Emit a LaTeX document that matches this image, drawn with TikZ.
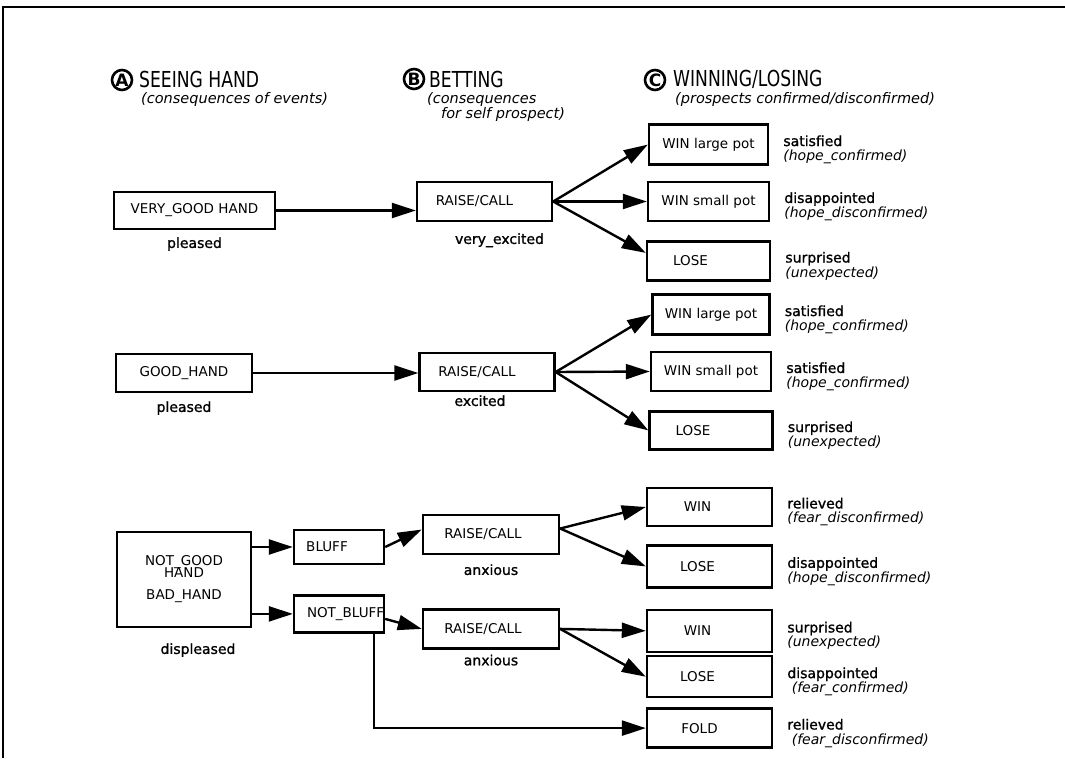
\documentclass[tikz,border=0pt]{standalone}
\usepackage{fontspec}
\setmainfont{DejaVu Sans}
\newfontfamily\lblfont[FakeBold=1.2]{DejaVu Sans}
\newfontfamily\headfont[FakeStretch=0.78]{DejaVu Sans}
\usetikzlibrary{arrows.meta, positioning}
\newcommand{\why}[1]{{\rmfamily\itshape #1}}
\newcommand{\lft}[2]{\hspace*{-#1}#2}
\tikzstyle{box}      = [rectangle, draw, line width=2.4pt, inner sep=2pt, text centered, font=\fontsize{13.5}{14}\selectfont]
\tikzstyle{rcbox}    = [box, minimum width=135pt, minimum height=39pt]
\tikzstyle{outbox}   = [box, minimum width=123pt, minimum height=39pt]
\tikzstyle{arrow}    = [line width=2.4pt, -{Triangle[length=24pt, width=15pt]}]
\tikzstyle{mood}     = [inner sep=0pt, text height=10pt, text depth=3pt, font=\lblfont\fontsize{14}{15}\selectfont]
\tikzstyle{outcome}  = [inner sep=0pt, align=left, yshift=-5pt, font=\lblfont\fontsize{14}{14.5}\selectfont]
\tikzstyle{stage}    = [circle, draw, line width=2.6pt, inner sep=0pt, minimum size=20pt, font=\bfseries\fontsize{17}{17}\selectfont]
\tikzstyle{title}    = [inner sep=0pt, anchor=west, font=\headfont\fontsize{22}{22}\selectfont]
\tikzstyle{subtitle} = [inner sep=0pt, anchor=west, align=left, font=\itshape\fontsize{14.5}{15.5}\selectfont]

\begin{document}
\begin{tikzpicture}[x=1pt, y=-1pt]
  \useasboundingbox (0,0) rectangle (1065,758);
  % frame
  \draw[line width=2.6pt] (3,758) -- (3,7) -- (1065,7);

  % Stage headings
  \node[stage] (sa) at (122,80) {A};
  \node[title] (sat) at (139,79) {SEEING HAND};
  \node[subtitle] (sas) at (141,99) {(consequences of events)};
  \node[stage] (sb) at (414,79) {B};
  \node[title] (sbt) at (429,79) {BETTING};
  \node[subtitle] (sbs) at (427,107) {(consequences\\\hspace*{14pt}for self prospect)};
  \node[stage] (sc) at (655,80) {C};
  \node[title] (sct) at (673,79) {WINNING/LOSING};
  \node[subtitle] (scs) at (675,99) {(prospects confirmed/disconfirmed)};

  % Very good hand
  \node[box, minimum width=161pt, minimum height=37pt] (vgh) at (194.5,210.5) {VERY\_GOOD HAND};
  \node[rcbox] (rc1) at (484.5,201.5) {\lft{20pt}{RAISE/CALL}};
  \node[outbox, minimum width=121pt] (wsp1) at (708.5,201.5) {WIN small pot};
  \node[outbox, minimum width=119pt, minimum height=40pt, above=15pt of wsp1] (wlp1) {WIN large pot};
  \node[outbox, below=18pt of wsp1] (lose1) {\lft{36pt}{LOSE}};
  \node[mood, below=7.5pt of vgh] (m1) {pleased};
  \node[mood, below=11.5pt of rc1, xshift=15pt] (m2) {very\_excited};
  \node[outcome, right=14pt of wlp1] (o1) {satisfied\\\why{(hope\_confirmed)}};
  \node[outcome, right=14pt of wsp1] (o2) {disappointed\\\why{(hope\_disconfirmed)}};
  \node[outcome, right=14pt of lose1] (o3) {surprised\\\why{(unexpected)}};

  % Good hand
  \node[box, minimum width=136pt, minimum height=38pt] (gh) at (184,373) {GOOD\_HAND};
  \node[rcbox, minimum height=38pt] (rc2) at (487,372) {\lft{20pt}{RAISE/CALL}};
  \node[outbox, minimum width=120pt] (wsp2) at (711,371.5) {WIN small pot};
  \node[outbox, minimum width=117pt, minimum height=40pt, above=15pt of wsp2] (wlp2) {WIN large pot};
  \node[outbox, minimum height=38pt, below=18pt of wsp2] (lose2) {\lft{36pt}{LOSE}};
  \node[mood, below=8.5pt of gh] (m3) {pleased};
  \node[mood, below=3.5pt of rc2, xshift=-7pt] (m4) {excited};
  \node[outcome, right=14pt of wlp2] (o4) {satisfied\\\why{(hope\_confirmed)}};
  \node[outcome, right=14pt of wsp2] (o5) {satisfied\\\why{(hope\_confirmed)}};
  \node[outcome, right=14pt of lose2] (o6) {surprised\\\why{(unexpected)}};

  % Not good / bad hand
  \node[box, minimum width=134pt, minimum height=95pt, align=center] (ngh) at (184,579.5) {NOT\_GOOD\\[-2pt]HAND\\[8pt]BAD\_HAND};
  \node[box, minimum width=90pt, minimum height=34pt] (bluff) at (339,547) {\lft{24pt}{BLUFF}};
  \node[box, minimum width=90pt, minimum height=37pt, below=29pt of bluff] (nbluff) {\makebox[64pt][l]{NOT\_BLUFF}};
  \node[rcbox, minimum width=136pt] (rc3) at (491,534.5) {\lft{16pt}{RAISE/CALL}};
  \node[rcbox, minimum width=136pt, below=53pt of rc3] (rc4) {\lft{16pt}{RAISE/CALL}};
  \node[outbox, minimum width=125pt, minimum height=38pt] (win3) at (709.5,507) {\lft{24pt}{WIN}};
  \node[outbox, minimum width=125pt, minimum height=42pt, below=17pt of win3] (lose3) {\lft{24pt}{LOSE}};
  \node[outbox, minimum width=125pt, minimum height=42pt, below=20pt of lose3] (win4) {\lft{24pt}{WIN}};
  \node[outbox, minimum width=125pt, minimum height=41pt, below=2pt of win4] (lose4) {\lft{24pt}{LOSE}};
  \node[outbox, minimum width=125pt, below=9pt of lose4] (fold) {\lft{20pt}{FOLD}};
  \node[mood, below=15.5pt of ngh, xshift=14pt] (m5) {displeased};
  \node[mood, below=9.5pt of rc3] (m6) {anxious};
  \node[mood, below=5.5pt of rc4] (m7) {anxious};
  \node[outcome, right=14pt of win3] (o7) {relieved\\\why{(fear\_disconfirmed)}};
  \node[outcome, right=14pt of lose3] (o8) {disappointed\\\why{(hope\_disconfirmed)}};
  \node[outcome, right=14pt of win4] (o9) {surprised\\\why{(unexpected)}};
  \node[outcome, right=14pt of lose4] (o10) {disappointed\\\why{\ (fear\_confirmed)}};
  \node[outcome, right=14pt of fold] (o11) {relieved\\\why{\ (fear\_disconfirmed)}};

  % Flows
  \draw[arrow] (vgh.east) -- (vgh.east -| rc1.west);
  \draw[arrow] (rc1.east) -- (wlp1.west);
  \draw[arrow] (rc1.east) -- (wsp1.west);
  \draw[arrow] (rc1.east) -- ([yshift=8pt]lose1.west);
  \draw[arrow] (gh.east) -- (gh.east -| rc2.west);
  \draw[arrow] (rc2.east) -- (wlp2.west);
  \draw[arrow] (rc2.east) -- (wsp2.west);
  \draw[arrow] (rc2.east) -- (lose2.west);
  \draw[arrow] (bluff.west -| ngh.east) -- (bluff.west);
  \draw[arrow] (nbluff.west -| ngh.east) -- (nbluff.west);
  \draw[arrow] (bluff.east) -- ([yshift=5pt]rc3.west);
  \draw[arrow] ([yshift=-5pt]nbluff.east) -- (rc4.west);
  \draw[arrow] ([yshift=6pt]rc3.east) -- (win3.west);
  \draw[arrow] ([yshift=6pt]rc3.east) -- (lose3.west);
  \draw[arrow] (rc4.east) -- (win4.west);
  \draw[arrow] (rc4.east) -- (lose4.west);
  \draw[arrow] ([xshift=-11pt]nbluff.south east) |- (fold.west);
\end{tikzpicture}
\end{document}
